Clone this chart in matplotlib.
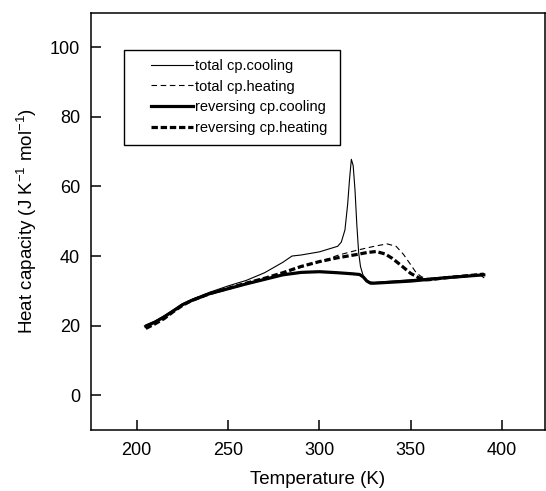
import matplotlib
matplotlib.use("Agg")
import matplotlib.pyplot as plt
from matplotlib.patches import Rectangle

plt.rcParams['font.family'] = ['Liberation Sans', 'DejaVu Sans']
plt.rcParams['lines.scale_dashes'] = False
plt.rcParams['mathtext.fontset'] = 'custom'
plt.rcParams['mathtext.rm'] = 'Liberation Sans'

# ---- data ----
tc_T = [205, 210, 215, 220, 225, 230, 240, 250, 260, 270, 280, 285, 290, 300, 305, 310,
        312, 314, 315.5, 316.5, 317.5, 318.5, 319.5, 320.5, 321.5, 322.5, 324, 326, 328,
        330, 340, 350, 360, 370, 380, 388, 390]
tc_cp = [20.2, 21.3, 22.8, 24.5, 26.2, 27.5, 29.6, 31.4, 33.0, 35.2, 38.2, 40.0, 40.3,
         41.2, 42.0, 42.8, 44.0, 47.5, 55.0, 62.0, 67.8, 66.0, 59.0, 49.0, 41.0, 37.0,
         34.3, 33.0, 32.5, 32.4, 32.8, 33.2, 33.6, 34.0, 34.3, 34.6, 33.8]

th_T = [205, 210, 215, 220, 225, 230, 240, 250, 260, 270, 280, 290, 300, 310, 320, 330,
        337, 342, 346, 350, 353, 356, 360, 370, 380, 390]
th_cp = [19.5, 20.8, 22.3, 24.2, 26.0, 27.3, 29.2, 30.8, 32.2, 33.5, 35.0, 36.8, 38.3,
         40.2, 41.6, 42.8, 43.5, 42.8, 40.5, 37.5, 35.2, 34.0, 33.5, 33.9, 34.3, 34.8]

rc_T = [205, 210, 215, 220, 225, 230, 240, 250, 260, 270, 280, 290, 300, 310, 318, 322,
        324, 326, 328, 330, 340, 350, 360, 370, 380, 390]
rc_cp = [19.8, 21.0, 22.5, 24.2, 26.0, 27.2, 29.2, 30.6, 32.0, 33.3, 34.6, 35.3, 35.5,
         35.2, 34.9, 34.7, 34.0, 32.8, 32.2, 32.2, 32.5, 32.8, 33.3, 33.8, 34.2, 34.6]

rh_T = [205, 210, 215, 220, 225, 230, 240, 250, 260, 270, 280, 290, 300, 310, 320, 326,
        331, 336, 340, 345, 350, 355, 358, 360, 370, 380, 390]
rh_cp = [19.2, 20.5, 22.0, 24.0, 25.8, 27.2, 29.2, 30.7, 32.2, 33.6, 35.2, 37.0, 38.4,
         39.5, 40.4, 41.0, 41.3, 40.6, 39.3, 37.2, 35.0, 33.6, 33.2, 33.2, 33.8, 34.3, 34.8]

labels = ['total cp.cooling', 'total cp.heating', 'reversing cp.cooling', 'reversing cp.heating']
x_ticks = [200, 250, 300, 350, 400]
y_ticks = [0, 20, 40, 60, 80, 100]

fig = plt.figure(figsize=(5.46, 4.91), dpi=100)
ax = fig.add_axes([91 / 546, 1 - 430 / 491, (545 - 91) / 546, (430 - 12.5) / 491])

thin = 0.8
thick = 2.3
ax.plot(tc_T, tc_cp, color='black', lw=thin, label=labels[0])
ax.plot(th_T, th_cp, color='black', lw=thin, linestyle=(0, (4.0, 2.6)), label=labels[1])
ax.plot(rc_T, rc_cp, color='black', lw=thick, label=labels[2])
ax.plot(rh_T, rh_cp, color='black', lw=thick, linestyle=(0, (4.6, 2.0)), label=labels[3])

ax.set_xlim(175, 423.5)
ax.set_ylim(-10, 110)
ax.set_xticks(x_ticks)
ax.set_yticks(y_ticks)
ax.tick_params(direction='in', length=7, width=1.1, labelsize=13, pad=8)
ax.tick_params(axis='x', pad=8.5)
for s in ax.spines.values():
    s.set_linewidth(1.1)

ax.set_xlabel('Temperature (K)', fontsize=13.5, labelpad=9)
ax.set_ylabel(r'Heat capacity (J K$^{\mathregular{-1}}$ mol$^{\mathregular{-1}}$)', fontsize=13.5, labelpad=8)

# legend box
fig.patches.append(Rectangle((124 / 546, 1 - 145 / 491), (340 - 124) / 546, (145 - 50) / 491,
                             transform=fig.transFigure, fill=True, facecolor='white',
                             edgecolor='black', lw=1.0, zorder=3))
leg = fig.legend(loc='upper left', bbox_to_anchor=(151 / 546, 1 - 59 / 491),
                 frameon=False, fontsize=10.5, handlelength=2.9, handletextpad=0.15,
                 labelspacing=0.45, borderpad=0.0, borderaxespad=0)
leg.set_zorder(4)

fig.savefig('out.png', dpi=100)
